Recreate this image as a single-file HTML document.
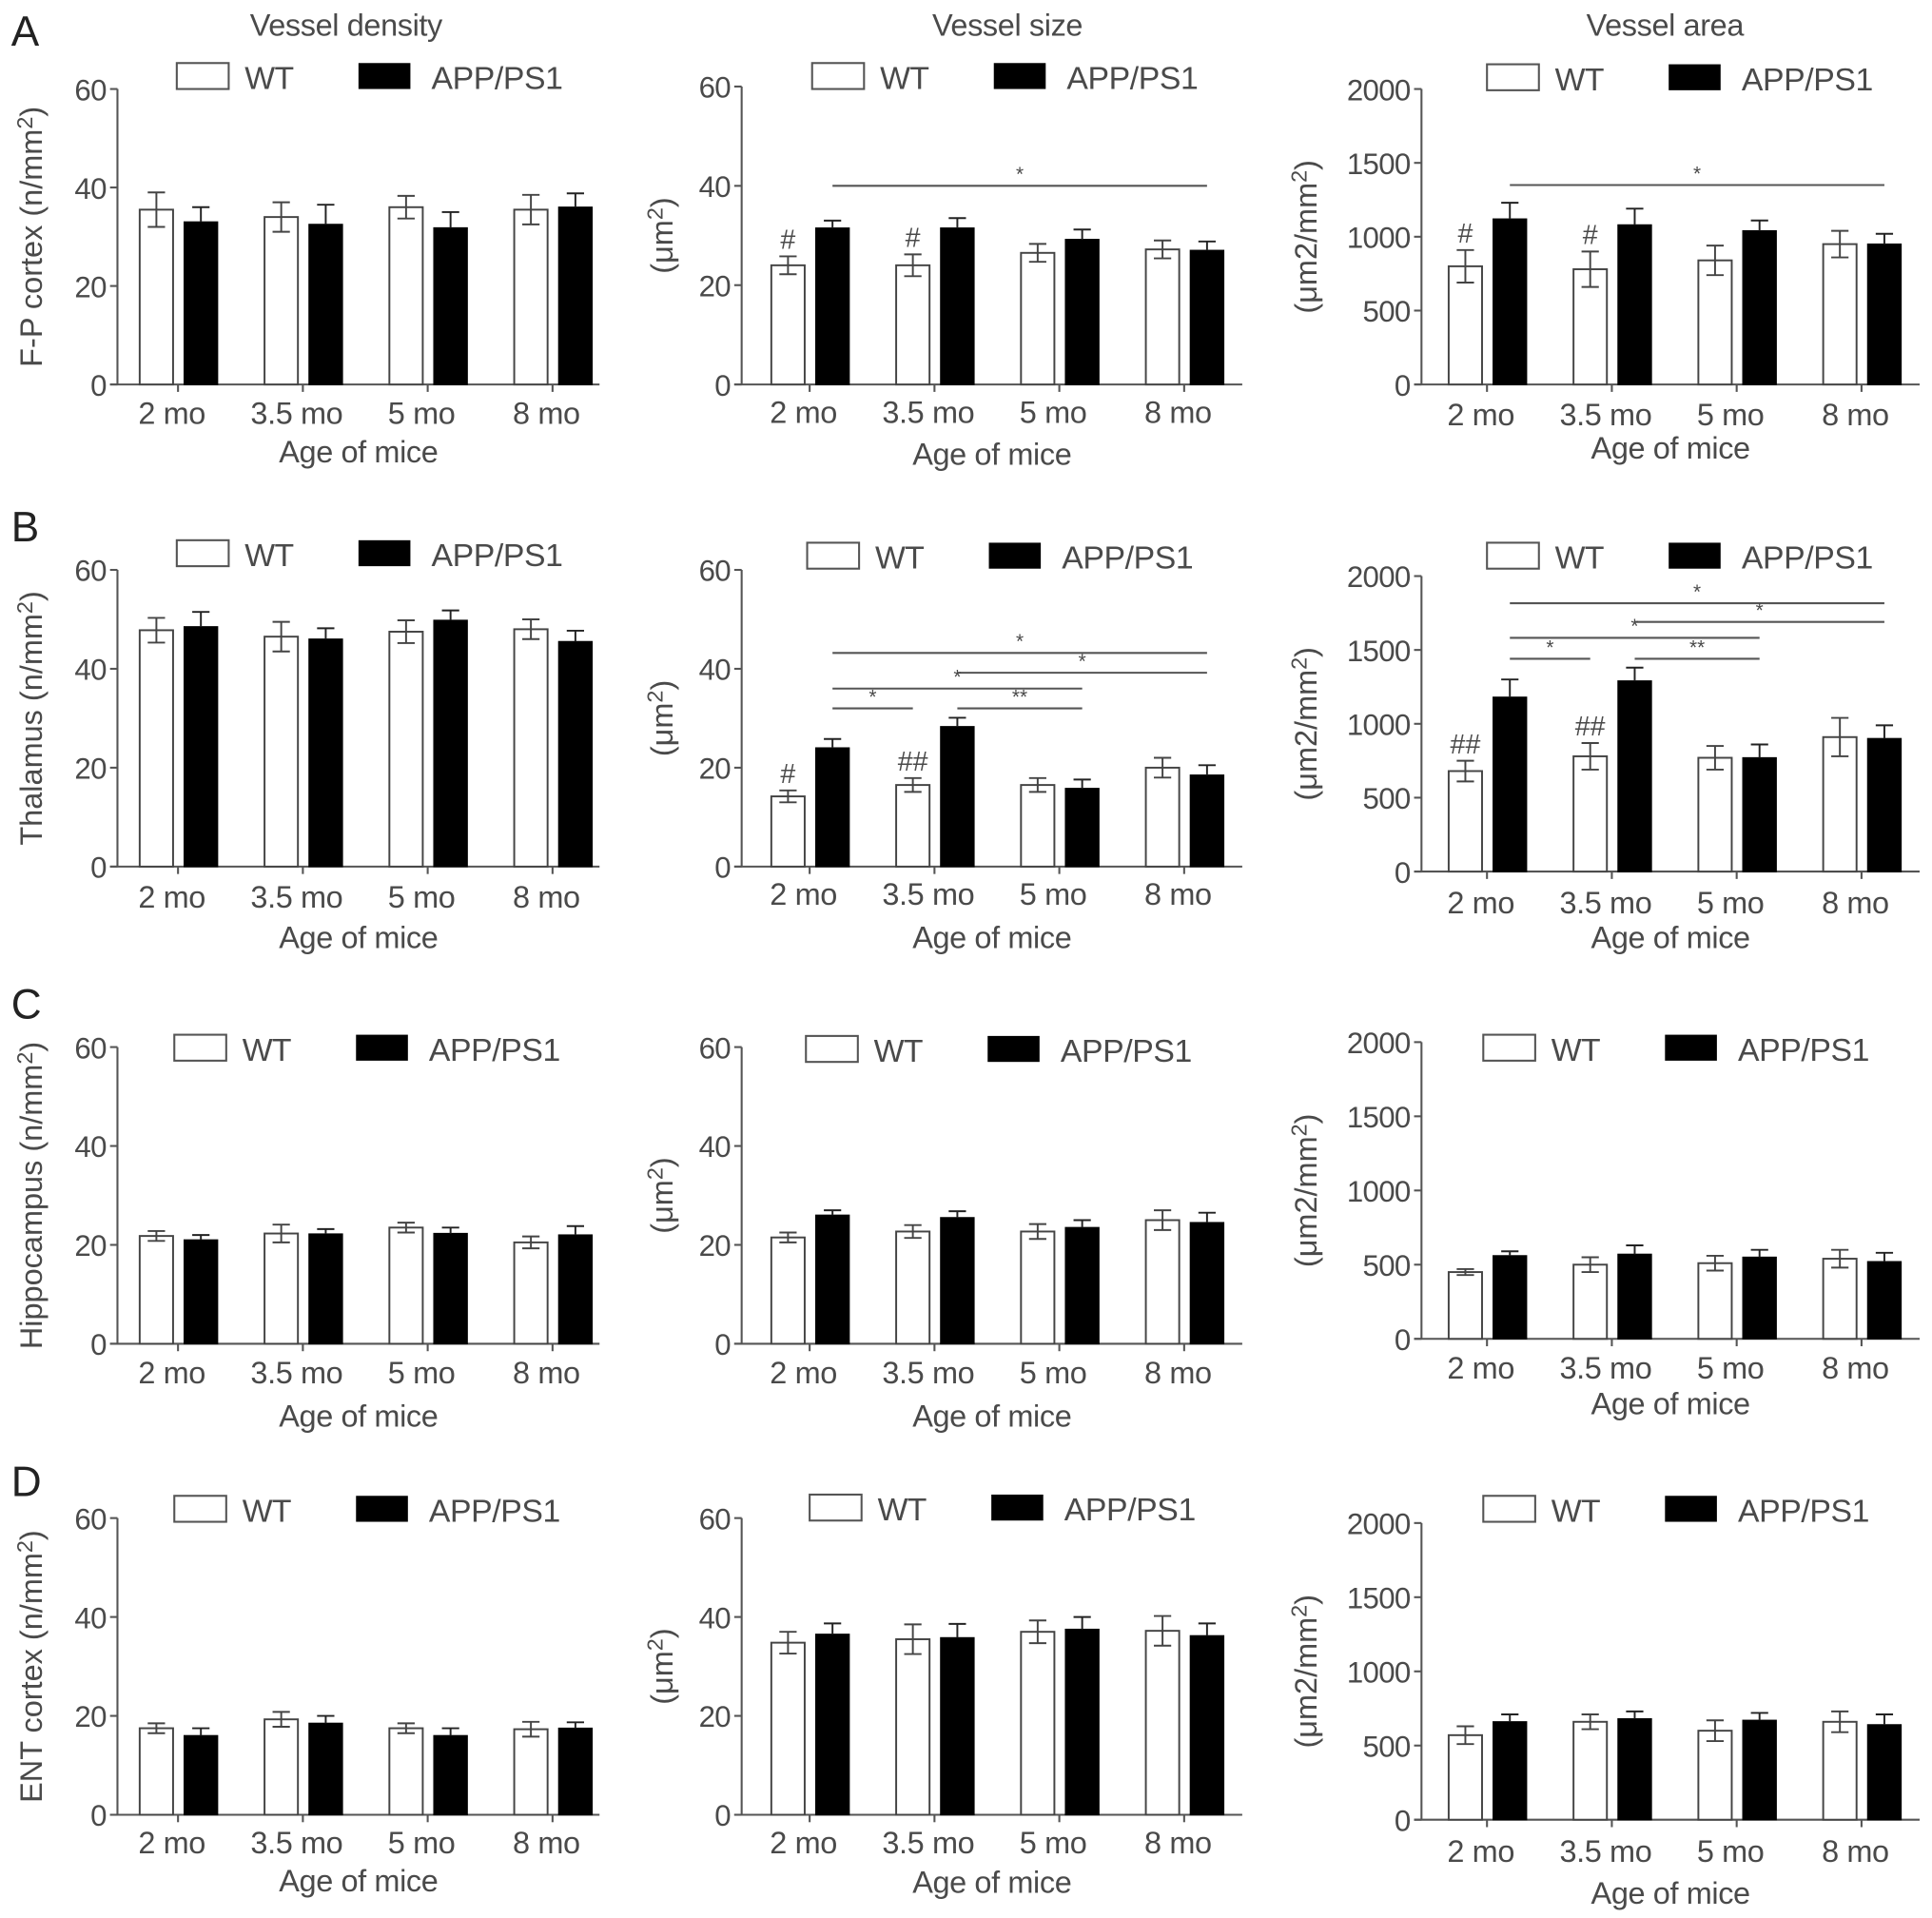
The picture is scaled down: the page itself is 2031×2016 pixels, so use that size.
<!DOCTYPE html>
<html><head><meta charset="utf-8">
<style>
html,body{margin:0;padding:0;background:#fff;}
svg{display:block;}
text{font-family:"Liberation Sans",sans-serif;fill:#4a4a4a;}
</style></head>
<body>
<svg id="fig" width="2031" height="2016" viewBox="0 0 1563 1551.5" xmlns="http://www.w3.org/2000/svg"></svg>
<script>
const categories = ["2 mo","3.5 mo","5 mo","8 mo"];
const ticks60 = [0,20,40,60];
const ticks2000 = [0,500,1000,1500,2000];

const a1_wt = [35.5,34,36,35.5];   const a1_wt_err = [3.5,3,2.3,3];
const a1_app = [33,32.5,31.8,36];  const a1_app_err = [3,4,3.2,2.8];
const a2_wt = [24,24,26.5,27.2];   const a2_wt_err = [1.8,2.2,1.8,1.8];
const a2_app = [31.5,31.5,29.2,27];const a2_app_err = [1.5,2,2,1.8];
const a3_wt = [800,780,840,950];   const a3_wt_err = [110,120,100,90];
const a3_app = [1120,1080,1040,950];const a3_app_err = [110,110,70,70];

const b1_wt = [47.8,46.5,47.5,48]; const b1_wt_err = [2.5,3,2.3,2];
const b1_app = [48.5,46,49.8,45.5];const b1_app_err = [3,2.2,2,2.2];
const b2_wt = [14.2,16.5,16.5,20]; const b2_wt_err = [1.2,1.4,1.4,2];
const b2_app = [24,28.3,15.8,18.5];const b2_app_err = [1.8,1.8,1.8,2];
const b3_wt = [680,780,770,910];   const b3_wt_err = [70,90,80,130];
const b3_app = [1180,1290,770,900];const b3_app_err = [120,90,90,90];

const c1_wt = [21.8,22.3,23.5,20.5];const c1_wt_err = [1,1.8,1,1.2];
const c1_app = [21,22.2,22.3,22];  const c1_app_err = [1,1,1.2,1.8];
const c2_wt = [21.5,22.7,22.7,25]; const c2_wt_err = [1,1.3,1.5,2];
const c2_app = [26,25.5,23.5,24.5];const c2_app_err = [1,1.3,1.5,2];
const c3_wt = [450,500,510,540];   const c3_wt_err = [20,50,50,60];
const c3_app = [560,570,550,520];  const c3_app_err = [30,60,50,60];

const d1_wt = [17.5,19.3,17.5,17.3];const d1_wt_err = [1,1.5,1,1.5];
const d1_app = [16,18.5,16,17.5];  const d1_app_err = [1.5,1.5,1.5,1.2];
const d2_wt = [34.8,35.5,37,37.2]; const d2_wt_err = [2.2,3,2.3,3];
const d2_app = [36.5,35.8,37.5,36.2];const d2_app_err = [2.2,2.8,2.5,2.5];
const d3_wt = [570,660,600,660];   const d3_wt_err = [60,50,70,70];
const d3_app = [660,680,670,640];  const d3_app_err = [50,50,50,70];

const a2_sig = [[0,1,3,1,40,"*"]];
const a3_sig = [[0,1,3,1,1350,"*"]];
const b2_sig = [[0,1,3,1,43.2,"*"],[1,1,3,1,39.2,"*"],[0,1,2,1,36,"*"],[0,1,1,0,32,"*"],[1,1,2,1,32,"**"]];
const b3_sig = [[0,1,3,1,1816,"*"],[1,1,3,1,1690,"*"],[0,1,2,1,1582,"*"],[0,1,1,0,1440,"*"],[1,1,2,1,1440,"**"]];
const a2_hash = [[0,"#"],[1,"#"]];
const a3_hash = [[0,"#"],[1,"#"]];
const b2_hash = [[0,"#"],[1,"##"]];
const b3_hash = [[0,"##"],[1,"##"]];

const svg = document.getElementById('fig');
const NS = "http://www.w3.org/2000/svg";
function el(tag, attrs, parent){ const e=document.createElementNS(NS,tag); for(const k in attrs) e.setAttribute(k,attrs[k]); (parent||svg).appendChild(e); return e; }
function txt(s, attrs, parent){ const t=el('text',attrs,parent); t.textContent=s; return t; }

const panels = [
 {id:'a1',ax:95,yTop:72,y0:311,xEnd:485,off:49,max:60,ticks:ticks60,wt:a1_wt,we:a1_wt_err,ap:a1_app,ae:a1_app_err,ylab:['F-P cortex (n/mm','2',')'],ylx:25,tl:334,al:365,ly:62,lx:143},
 {id:'a2',ax:600,yTop:70,y0:311,xEnd:1005,off:55,max:60,ticks:ticks60,wt:a2_wt,we:a2_wt_err,ap:a2_app,ae:a2_app_err,ylab:['(μm','2',')'],ylx:535,tl:333,al:367,ly:62,lx:657,sig:a2_sig,hash:a2_hash},
 {id:'a3',ax:1150,yTop:72,y0:311,xEnd:1553,off:53,max:2000,ticks:ticks2000,wt:a3_wt,we:a3_wt_err,ap:a3_app,ae:a3_app_err,ylab:['(μm2/mm','2',')'],ylx:1056,tl:335,al:362,ly:63,lx:1203,sig:a3_sig,hash:a3_hash},
 {id:'b1',ax:95,yTop:461,y0:701,xEnd:485,off:49,max:60,ticks:ticks60,wt:b1_wt,we:b1_wt_err,ap:b1_app,ae:b1_app_err,ylab:['Thalamus (n/mm','2',')'],ylx:25,tl:725,al:758,ly:448,lx:143},
 {id:'b2',ax:600,yTop:461,y0:701,xEnd:1005,off:55,max:60,ticks:ticks60,wt:b2_wt,we:b2_wt_err,ap:b2_app,ae:b2_app_err,ylab:['(μm','2',')'],ylx:535,tl:723,al:758,ly:450,lx:653,sig:b2_sig,hash:b2_hash},
 {id:'b3',ax:1150,yTop:466,y0:705,xEnd:1553,off:53,max:2000,ticks:ticks2000,wt:b3_wt,we:b3_wt_err,ap:b3_app,ae:b3_app_err,ylab:['(μm2/mm','2',')'],ylx:1056,tl:730,al:758,ly:450,lx:1203,sig:b3_sig,hash:b3_hash},
 {id:'c1',ax:95,yTop:847,y0:1087,xEnd:485,off:49,max:60,ticks:ticks60,wt:c1_wt,we:c1_wt_err,ap:c1_app,ae:c1_app_err,ylab:['Hippocampus (n/mm','2',')'],ylx:25,tl:1110,al:1145,ly:848,lx:141},
 {id:'c2',ax:600,yTop:847,y0:1087,xEnd:1005,off:55,max:60,ticks:ticks60,wt:c2_wt,we:c2_wt_err,ap:c2_app,ae:c2_app_err,ylab:['(μm','2',')'],ylx:535,tl:1110,al:1145,ly:849,lx:652},
 {id:'c3',ax:1150,yTop:843,y0:1083,xEnd:1553,off:53,max:2000,ticks:ticks2000,wt:c3_wt,we:c3_wt_err,ap:c3_app,ae:c3_app_err,ylab:['(μm2/mm','2',')'],ylx:1056,tl:1106,al:1135,ly:848,lx:1200},
 {id:'d1',ax:95,yTop:1228,y0:1468,xEnd:485,off:49,max:60,ticks:ticks60,wt:d1_wt,we:d1_wt_err,ap:d1_app,ae:d1_app_err,ylab:['ENT cortex (n/mm','2',')'],ylx:25,tl:1490,al:1521,ly:1221,lx:141},
 {id:'d2',ax:600,yTop:1228,y0:1468,xEnd:1005,off:55,max:60,ticks:ticks60,wt:d2_wt,we:d2_wt_err,ap:d2_app,ae:d2_app_err,ylab:['(μm','2',')'],ylx:535,tl:1490,al:1522,ly:1220,lx:655},
 {id:'d3',ax:1150,yTop:1232,y0:1472,xEnd:1553,off:53,max:2000,ticks:ticks2000,wt:d3_wt,we:d3_wt_err,ap:d3_app,ae:d3_app_err,ylab:['(μm2/mm','2',')'],ylx:1056,tl:1497,al:1531,ly:1221,lx:1200},
];

const GAP = 101, BW = 27;
panels.forEach(p=>{
  const g = el('g',{});
  
  
  const yS = v => p.y0 - (v/p.max)*(p.y0-p.yTop);
  const xC = i => p.ax + p.off + i*GAP;
  const xWT = i => xC(i) - 31;
  const xAP = i => xC(i) + 5;
  const ya = el('line',{x1:p.ax,y1:p.yTop,x2:p.ax,y2:p.y0,stroke:'#555','stroke-width':1.6},g);
   
  const xa = el('line',{x1:p.ax-6,y1:p.y0,x2:p.xEnd,y2:p.y0,stroke:'#555','stroke-width':1.6},g);
   
  p.ticks.forEach(t=>{
    el('line',{x1:p.ax-6,y1:yS(t),x2:p.ax,y2:yS(t),stroke:'#555','stroke-width':1.6},g);
    const tl = txt(String(t),{x:p.ax-9,y:yS(t)+9,'text-anchor':'end','font-size':24,'letter-spacing':'-0.5'},g);
     
  });
  categories.forEach((c,i)=>{
    el('line',{x1:xC(i),y1:p.y0,x2:xC(i),y2:p.y0+6,stroke:'#555','stroke-width':1.6},g);
    const tl = txt(c,{x:xC(i)-5,y:p.tl+9,'text-anchor':'middle','font-size':25,'letter-spacing':'-0.3'},g);
     
    const top = yS(p.wt[i]);
    const r1 = el('rect',{x:xWT(i),y:top,width:BW,height:p.y0-top,fill:'#fff',stroke:'#444','stroke-width':1.5},g);
     
    const cx1 = xWT(i)+BW/2, hi1=yS(p.wt[i]+p.we[i]), lo1=yS(p.wt[i]-p.we[i]);
    const e1 = el('path',{d:`M${cx1},${hi1}V${lo1}M${cx1-7},${hi1}h14M${cx1-7},${lo1}h14`,stroke:'#444','stroke-width':1.5,fill:'none'},g);
     
    const top2 = yS(p.ap[i]);
    const r2 = el('rect',{x:xAP(i),y:top2,width:BW,height:p.y0-top2,fill:'#000',stroke:'#000','stroke-width':1},g);
     
    const cx2 = xAP(i)+BW/2, hi2=yS(p.ap[i]+p.ae[i]);
    const e2 = el('path',{d:`M${cx2},${hi2}V${top2}M${cx2-7},${hi2}h14`,stroke:'#222','stroke-width':1.5,fill:'none'},g);
     
  });
  const at = txt('Age of mice',{x:(p.ax+p.xEnd)/2,y:p.al+9,'text-anchor':'middle','font-size':25,'letter-spacing':'-0.3'},g);
   
  const ymid = (p.yTop+p.y0)/2;
  const yt = el('text',{x:0,y:0,'text-anchor':'middle','font-size':25,transform:`translate(${p.ylx+9},${ymid}) rotate(-90)`},g);
   
  const t1=document.createElementNS(NS,'tspan'); t1.textContent=p.ylab[0]; yt.appendChild(t1);
  const t2=document.createElementNS(NS,'tspan'); t2.textContent=p.ylab[1]; t2.setAttribute('dy','-8'); t2.setAttribute('font-size','18'); yt.appendChild(t2);
  const t3=document.createElementNS(NS,'tspan'); t3.textContent=p.ylab[2]; t3.setAttribute('dy','8'); yt.appendChild(t3);
  const lg = el('g',{},g);
   
  el('rect',{x:p.lx,y:p.ly-11,width:42,height:21,fill:'#fff',stroke:'#555','stroke-width':1.6},lg);
  txt('WT',{x:p.lx+55,y:p.ly+10,'font-size':26,'letter-spacing':'-0.5'},lg);
  el('rect',{x:p.lx+147,y:p.ly-11,width:42,height:21,fill:'#000'},lg);
  txt('APP/PS1',{x:p.lx+206,y:p.ly+10,'font-size':26,'letter-spacing':'-0.3'},lg);
  (p.sig||[]).forEach(s=>{
    const x1 = (s[1]?xAP(s[0]):xWT(s[0]))+BW/2, x2=(s[3]?xAP(s[2]):xWT(s[2]))+BW/2, y=yS(s[4]);
    const l = el('line',{x1:x1,y1:y,x2:x2,y2:y,stroke:'#555','stroke-width':1.6},g);
     
    const st = txt(s[5],{x:(x1+x2)/2,y:y-4,'text-anchor':'middle','font-size':16},g);
     
  });
  (p.hash||[]).forEach(h=>{
    const i=h[0];
    const ht = txt(h[1],{x:xWT(i)+BW/2,y:yS(p.wt[i]+p.we[i])-6,'text-anchor':'middle','font-size':22,'font-family':'Liberation Serif'},g);
     
  });
});

[['Vessel density',280],['Vessel size',815],['Vessel area',1347]].forEach(t=>{
  const e = txt(t[0],{x:t[1],y:29,'text-anchor':'middle','font-size':25,'letter-spacing':'-0.3'});
   
});
[['A',37],['B',438],['C',824],['D',1210]].forEach(t=>{
  const e = txt(t[0],{x:9,y:t[1],'font-size':34,style:'fill:#222'});
   
});
</script>
</body></html>
